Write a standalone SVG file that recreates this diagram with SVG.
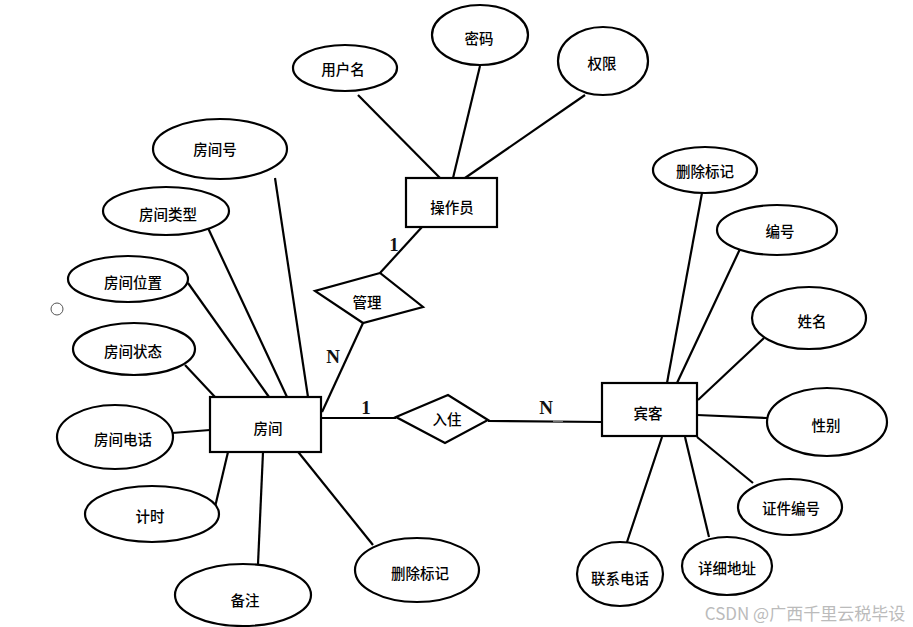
<svg xmlns="http://www.w3.org/2000/svg" width="913" height="627" viewBox="0 0 913 627">
<style>
.e{fill:#fff;stroke:#000;stroke-width:2.2}
.r{fill:#fff;stroke:#000;stroke-width:2.2}
.t{font-family:"Noto Sans CJK SC","Noto Sans",sans-serif;font-size:14.5px;font-weight:500;fill:#000;text-anchor:middle;dominant-baseline:central}
.c line{stroke:#000;stroke-width:2.2}
.k{font-family:"Liberation Serif",serif;font-size:19px;font-weight:bold;fill:#111;text-anchor:middle;dominant-baseline:central}
</style>
<rect width="913" height="627" fill="#fff"/>
<g class="c" id="connectors">
<line x1="358" y1="95" x2="442" y2="180"/>
<line x1="480" y1="66" x2="453" y2="178"/>
<line x1="585" y1="95" x2="465" y2="178"/>
<line x1="422" y1="227" x2="380" y2="273"/>
<line x1="363" y1="323" x2="322" y2="412"/>
<line x1="321" y1="418" x2="396" y2="418"/>
<line x1="488" y1="421" x2="602" y2="422"/>
<line x1="275" y1="178" x2="308" y2="397"/>
<line x1="208" y1="228" x2="287" y2="397"/>
<line x1="188" y1="283" x2="269" y2="397"/>
<line x1="185" y1="365" x2="215" y2="397"/>
<line x1="172" y1="433" x2="210" y2="430"/>
<line x1="215" y1="507" x2="228" y2="452"/>
<line x1="258" y1="564" x2="263" y2="452"/>
<line x1="373" y1="545" x2="295" y2="448"/>
<line x1="702" y1="193" x2="667" y2="383"/>
<line x1="740" y1="249" x2="677" y2="383"/>
<line x1="764" y1="338" x2="698" y2="400"/>
<line x1="697" y1="415" x2="767" y2="418"/>
<line x1="697" y1="437" x2="753" y2="483"/>
<line x1="685" y1="437" x2="709" y2="537"/>
<line x1="662" y1="437" x2="627" y2="542"/>
</g>
<g id="operator"><rect class="r" x="406" y="178" width="91" height="49"/><text class="t" x="452" y="206">操作员</text></g>
<g id="username"><ellipse class="e" cx="345" cy="68" rx="52" ry="23"/><text class="t" x="343" y="68">用户名</text></g>
<g id="password"><ellipse class="e" cx="480" cy="35" rx="48" ry="30"/><text class="t" x="479" y="37">密码</text></g>
<g id="permission"><ellipse class="e" cx="603" cy="61" rx="45" ry="34"/><text class="t" x="602" y="62">权限</text></g>
<g id="manage"><polygon class="r" points="380,273 315,291 363,323 423,307"/><text class="t" x="367" y="301">管理</text></g>
<g id="checkin"><polygon class="r" points="396,417 448,395 488,420 445,443"/><text class="t" x="447" y="418">入住</text></g>
<g id="room"><rect class="r" x="210" y="397" width="111" height="55"/><text class="t" x="268" y="427">房间</text></g>
<g id="guest"><rect class="r" x="602" y="383" width="95" height="53"/><text class="t" x="648" y="412">宾客</text></g>
<g id="room-no"><ellipse class="e" cx="220" cy="149" rx="67" ry="30"/><text class="t" x="215" y="148">房间号</text></g>
<g id="room-type"><ellipse class="e" cx="166" cy="211" rx="63" ry="24"/><text class="t" x="168" y="213">房间类型</text></g>
<g id="room-pos"><ellipse class="e" cx="128" cy="279" rx="60" ry="23"/><text class="t" x="133" y="281">房间位置</text></g>
<g id="dot"><circle cx="57" cy="309" r="6" fill="#fff" stroke="#555" stroke-width="1"/></g>
<g id="room-state"><ellipse class="e" cx="134" cy="349" rx="61" ry="26"/><text class="t" x="133" y="350">房间状态</text></g>
<g id="room-tel"><ellipse class="e" cx="115" cy="437" rx="58" ry="32"/><text class="t" x="123" y="438">房间电话</text></g>
<g id="timer"><ellipse class="e" cx="152" cy="514" rx="67" ry="28"/><text class="t" x="150" y="515">计时</text></g>
<g id="remark"><ellipse class="e" cx="243" cy="595" rx="68" ry="31"/><text class="t" x="245" y="599">备注</text></g>
<g id="room-del"><ellipse class="e" cx="417" cy="570" rx="62" ry="32"/><text class="t" x="420" y="572">删除标记</text></g>
<g id="guest-del"><ellipse class="e" cx="705" cy="170" rx="52" ry="23"/><text class="t" x="705" y="170">删除标记</text></g>
<g id="guest-no"><ellipse class="e" cx="777" cy="230" rx="60" ry="25"/><text class="t" x="780" y="230">编号</text></g>
<g id="guest-name"><ellipse class="e" cx="809" cy="318" rx="57" ry="31"/><text class="t" x="812" y="320">姓名</text></g>
<g id="guest-sex"><ellipse class="e" cx="827" cy="422" rx="60" ry="34"/><text class="t" x="826" y="424">性别</text></g>
<g id="guest-id"><ellipse class="e" cx="790" cy="507" rx="52" ry="28"/><text class="t" x="791" y="507">证件编号</text></g>
<g id="guest-addr"><ellipse class="e" cx="727" cy="566" rx="45" ry="29"/><text class="t" x="727" y="567">详细地址</text></g>
<g id="guest-tel"><ellipse class="e" cx="620" cy="574" rx="43" ry="32"/><text class="t" x="620" y="577">联系电话</text></g>
<g id="labels">
<text class="k" x="394" y="244">1</text>
<text class="k" x="333" y="356">N</text>
<text class="k" x="366" y="407">1</text>
<text class="k" x="546" y="407">N</text>
<line x1="553" y1="421" x2="563" y2="421" stroke="#999" stroke-width="1.5"/>
</g>
<text x="805" y="612" font-family="'Noto Sans CJK SC','Noto Sans',sans-serif" font-size="17" fill="#bbb" text-anchor="middle" dominant-baseline="central">CSDN @广西千里云税毕设</text>
</svg>
